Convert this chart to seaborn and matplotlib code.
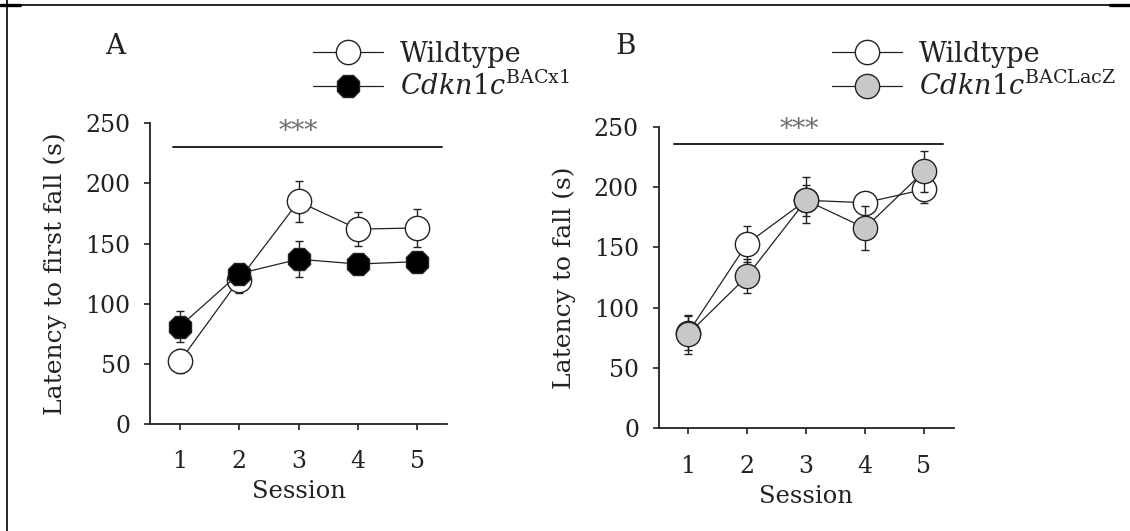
import numpy as np
import pandas as pd
import matplotlib
matplotlib.use("Agg")
import matplotlib.pyplot as plt
import seaborn as sns
from matplotlib.lines import Line2D

# ---------------- data ----------------
sessions = [1, 2, 3, 4, 5]
a_wt_mean = [52, 120, 185, 162, 163]
a_wt_sem = [10, 11, 17, 14, 16]
a_bac_mean = [81, 125, 137, 133, 135]
a_bac_sem = [13, 8, 15, 7, 8]

b_wt_mean = [79, 153, 189, 187, 198]
b_wt_sem = [14, 15, 13, 8, 11]
b_lacz_mean = [78, 126, 189, 166, 213]
b_lacz_sem = [16, 14, 19, 18, 17]

y_ticks = [0, 50, 100, 150, 200, 250]
label_wt = "Wildtype"
label_bac = r"$\mathit{Cdkn1c}^{\mathrm{BACx1}}$"
label_lacz = r"$\mathit{Cdkn1c}^{\mathrm{BACLacZ}}$"

# ---------------- style ----------------
sns.set_style("ticks")
plt.rcParams["font.family"] = ["DejaVu Serif"]
plt.rcParams["mathtext.fontset"] = "dejavuserif"
TXT = "#222222"
FS = 17

fig = plt.figure(figsize=(11.3, 5.31), dpi=100)
W, H = 1130, 531
axA = fig.add_axes([150 / W, 107 / H, 297 / W, 300.7 / H])
axB = fig.add_axes([658.5 / W, 102.7 / H, 295 / W, 301.6 / H])


def draw_series(ax, mean, sem, face, marker, label, z):
    df = pd.DataFrame({"Session": sessions, "Latency": mean})
    ax.errorbar(sessions, mean, yerr=sem, fmt="none", ecolor="#222222",
                elinewidth=1.0, capsize=3.2, capthick=1.0, zorder=z)
    sns.lineplot(data=df, x="Session", y="Latency", ax=ax, color="#222222",
                 linewidth=0.9, marker=marker, markersize=17.5,
                 markerfacecolor=face, markeredgecolor="#222222",
                 markeredgewidth=1.0, label=label, zorder=z + 0.5)


def style_axes(ax, ylabel):
    ax.set_xlim(0.5, 5.5)
    ax.set_ylim(0, 250)
    ax.set_xticks(sessions)
    ax.set_yticks(y_ticks)
    ax.spines["top"].set_visible(False)
    ax.spines["right"].set_visible(False)
    for s in ("left", "bottom"):
        ax.spines[s].set_linewidth(1.3)
        ax.spines[s].set_color("#222222")
    ax.tick_params(axis="both", length=4, width=1.2, colors="#222222",
                   labelsize=FS, labelcolor=TXT)
    ax.tick_params(axis="x", pad=15)
    ax.tick_params(axis="y", pad=10)
    ax.set_xlabel("Session", fontsize=FS + 0.5, color=TXT, labelpad=5)
    ax.set_ylabel(ylabel, fontsize=FS + 1, color=TXT, labelpad=13)


# Panel A
draw_series(axA, a_wt_mean, a_wt_sem, "white", "o", label_wt, 3)
draw_series(axA, a_bac_mean, a_bac_sem, "black", "8", label_bac, 5)
style_axes(axA, "Latency to first fall (s)")
axA.plot([0.89, 5.42], [230, 230], color="#222222", lw=1.4, clip_on=False)
axA.text(3.0, 243, "***", ha="center", va="center", fontsize=19,
         color="#707070", clip_on=False)

# Panel B
draw_series(axB, b_wt_mean, b_wt_sem, "white", "o", label_wt, 3)
draw_series(axB, b_lacz_mean, b_lacz_sem, "#c8c8c8", "o", label_lacz, 5)
style_axes(axB, "Latency to fall (s)")
axB.plot([0.77, 5.32], [236, 236], color="#222222", lw=1.4, clip_on=False)
axB.text(2.88, 248, "***", ha="center", va="center", fontsize=19,
         color="#707070", clip_on=False)

# legends
for ax, x0 in ((axA, 313), (axB, 832)):
    handles, labels = ax.get_legend_handles_labels()
    leg = ax.legend(handles, labels, loc="center left",
                    bbox_to_anchor=(x0 / W, 1 - 71 / H),
                    bbox_transform=fig.transFigure, frameon=False,
                    fontsize=19.5, handlelength=2.6, handletextpad=0.6,
                    labelspacing=0.15, borderpad=0, borderaxespad=0)
    for t in leg.get_texts():
        t.set_color(TXT)

# panel letters
fig.text(115 / W, 1 - 46 / H, "A", fontsize=20, ha="center", va="center", color=TXT)
fig.text(626 / W, 1 - 46 / H, "B", fontsize=20, ha="center", va="center", color=TXT)

# border lines of the figure cell
fig.add_artist(Line2D([0, 1], [1 - 4.5 / H] * 2, transform=fig.transFigure,
                      color="black", lw=1.2))
fig.add_artist(Line2D([0, 20 / W], [1 - 4.5 / H] * 2, transform=fig.transFigure,
                      color="black", lw=2.4))
fig.add_artist(Line2D([1110 / W, 1], [1 - 4.5 / H] * 2, transform=fig.transFigure,
                      color="black", lw=2.4))
fig.add_artist(Line2D([7 / W] * 2, [0, 1], transform=fig.transFigure,
                      color="black", lw=1.2))

fig.savefig("out.png", dpi=100)
